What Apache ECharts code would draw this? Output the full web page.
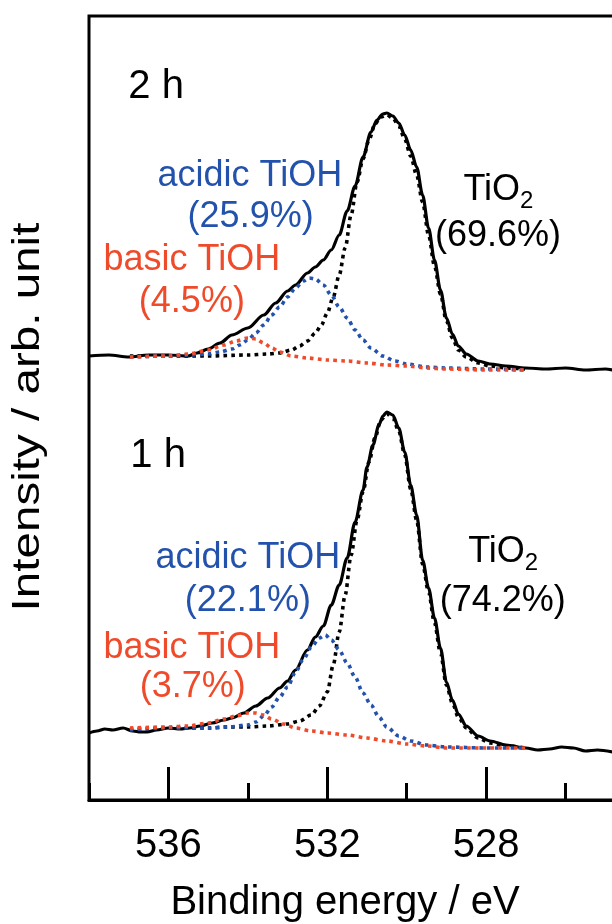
<!DOCTYPE html>
<html>
<head>
<meta charset="utf-8">
<title>O1s XPS</title>
<script src="https://cdn.jsdelivr.net/npm/echarts@6/dist/echarts.min.js"></script>
<style>
  html, body { margin: 0; padding: 0; background: #fff; }
  #chart { width: 612px; height: 924px; }
</style>
</head>
<body>
<div id="chart"></div>
<script>
// ---- 2 h spectrum (binding energy / eV, intensity / arb. unit) ----
const e2hTotal = [538.0, 537.5, 537.0, 536.5, 536.0, 535.5, 535.28, 535.0, 534.7, 534.4, 534.0, 533.6, 533.3, 533.0, 532.8, 532.5, 532.3, 532.1, 531.9, 531.7, 531.5, 531.3, 531.1, 530.9, 530.75, 530.6, 530.5, 530.35, 530.2, 530.05, 529.9, 529.75, 529.6, 529.45, 529.3, 529.15, 529.0, 528.85, 528.7, 528.5, 528.2, 527.9, 527.5, 527.0, 526.5, 526.0, 525.5, 525.0, 524.8];
const i2hTotal = [444, 445, 443, 445, 445, 444, 447, 451, 457, 465, 472, 485, 497, 509, 515, 527, 533, 540, 550, 565, 589, 614, 643, 668, 680, 686, 687, 684, 677, 665, 650, 633, 605, 572, 540, 510, 482, 466, 454, 446, 439, 436, 434, 432, 431, 432, 430, 431, 430];

const e2hTiO2 = [536.97, 536.0, 535.0, 534.0, 533.5, 533.2, 532.9, 532.7, 532.5, 532.3, 532.15, 532.0, 531.85, 531.7, 531.55, 531.4, 531.25, 531.1, 530.95, 530.8, 530.65, 530.5, 530.35, 530.2, 530.05, 529.9, 529.75, 529.6, 529.45, 529.3, 529.15, 529.0, 528.85, 528.7, 528.5, 528.2, 527.9, 527.5, 527.02];
const i2hTiO2 = [444, 444, 444, 445, 446, 447, 450, 454, 459, 467, 475, 487, 503, 525, 552, 585, 618, 641, 660, 676, 683, 685, 682, 674, 661, 644, 625, 598, 565, 534, 506, 479, 462, 450, 443, 437, 434, 432, 431];

const e2hAcidic = [536.97, 536.0, 535.5, 535.0, 534.7, 534.4, 534.2, 534.0, 533.8, 533.6, 533.4, 533.2, 533.0, 532.8, 532.6, 532.45, 532.3, 532.1, 531.9, 531.7, 531.5, 531.3, 531.1, 530.9, 530.6, 530.3, 530.0, 529.5, 529.0, 528.0, 527.02];
const i2hAcidic = [443, 444, 445, 446, 448, 451, 455, 460, 467, 475, 485, 493, 503, 512, 519, 522, 521, 515, 505, 493, 482, 470, 460, 452, 444, 439, 436, 433, 432, 431, 430];

const e2hBasic = [536.97, 536.0, 535.5, 535.0, 534.6, 534.3, 534.0, 533.8, 533.6, 533.4, 533.2, 532.9, 532.5, 532.0, 531.5, 531.0, 530.5, 530.0, 529.5, 529.0, 528.0, 527.02];
const i2hBasic = [443, 444, 446, 450, 455, 459, 462, 461, 457, 452, 448, 444, 442, 440, 439, 437, 435, 434, 432, 431, 430, 430];

// ---- 1 h spectrum ----
const e1hTotal = [538.0, 537.8, 537.6, 537.4, 537.14, 536.9, 536.7, 536.54, 536.3, 536.0, 535.7, 535.46, 535.2, 534.9, 534.6, 534.4, 534.1, 533.8, 533.5, 533.2, 533.0, 532.8, 532.5, 532.3, 532.1, 531.9, 531.7, 531.5, 531.3, 531.1, 531.0, 530.85, 530.7, 530.6, 530.5, 530.35, 530.2, 530.05, 529.9, 529.75, 529.6, 529.45, 529.3, 529.15, 529.0, 528.85, 528.7, 528.5, 528.2, 527.9, 527.5, 527.0, 526.7, 526.4, 526.1, 525.8, 525.5, 525.2, 524.8];
const i1hTotal = [67, 69, 71, 70, 72, 69, 68, 68, 70, 72, 71, 72, 74, 77, 80, 82, 87, 94, 102, 112, 119, 130, 150, 163, 174, 195, 215, 242, 278, 310, 333, 355, 375, 384, 388, 385, 372, 348, 315, 285, 240, 212, 182, 152, 118, 100, 86, 74, 64, 59, 55, 52, 50, 51, 53, 52, 49, 50, 48];

const e1hTiO2 = [536.97, 536.5, 536.0, 535.5, 535.0, 534.5, 534.0, 533.5, 533.0, 532.7, 532.4, 532.2, 532.0, 531.85, 531.7, 531.55, 531.4, 531.25, 531.1, 530.95, 530.8, 530.65, 530.5, 530.35, 530.2, 530.05, 529.9, 529.75, 529.6, 529.45, 529.3, 529.15, 529.0, 528.85, 528.7, 528.5, 528.2, 527.9, 527.5, 527.02];
const i1hTiO2 = [71, 71, 72, 72, 72, 73, 73, 74, 76, 79, 85, 94, 108, 135, 168, 205, 245, 280, 308, 338, 362, 380, 386, 382, 369, 345, 311, 280, 236, 208, 177, 147, 115, 97, 83, 72, 62, 57, 54, 52];

const e1hAcidic = [536.97, 536.0, 535.0, 534.5, 534.0, 533.8, 533.6, 533.4, 533.2, 533.0, 532.8, 532.6, 532.4, 532.2, 532.05, 531.9, 531.7, 531.5, 531.3, 531.1, 530.9, 530.7, 530.5, 530.2, 529.9, 529.5, 529.0, 528.0, 527.02];
const i1hAcidic = [70, 72, 72, 73, 75, 78, 84, 93, 103, 113, 128, 141, 153, 162, 165, 160, 150, 137, 123, 107, 95, 83, 73, 64, 59, 55, 53, 52, 52];

const e1hBasic = [536.97, 536.0, 535.5, 535.0, 534.6, 534.3, 534.0, 533.8, 533.6, 533.4, 533.1, 532.8, 532.4, 532.0, 531.5, 531.0, 530.5, 530.0, 529.5, 529.0, 528.0, 527.02];
const i1hBasic = [72, 73, 74, 77, 81, 84, 87, 87, 85, 81, 76, 72, 69, 67, 65, 62, 59, 56, 54, 52, 52, 52];

// axis
const xMin = 524, xMax = 538;
const yMin = 0, yMax = 784;

// annotations, anchored in data units (energy, intensity)
const notes = [
  { text: '2 h', e: 536.31, v: 713, color: 'black', size: 40 },
  { text: 'acidic TiOH', e: 533.95, v: 624, color: 'blue', size: 36 },
  { text: '(25.9%)', e: 533.93, v: 583, color: 'blue', size: 36 },
  { text: 'basic TiOH', e: 535.41, v: 540, color: 'red', size: 36 },
  { text: '(4.5%)', e: 535.41, v: 498, color: 'red', size: 36 },
  { text: 'TiO2', e: 527.70, v: 610, color: 'black', size: 36 },
  { text: '(69.6%)', e: 527.70, v: 564, color: 'black', size: 36 },
  { text: '1 h', e: 536.26, v: 344, color: 'black', size: 40 },
  { text: 'acidic TiOH', e: 534.0, v: 242, color: 'blue', size: 36 },
  { text: '(22.1%)', e: 534.0, v: 199, color: 'blue', size: 36 },
  { text: 'basic TiOH', e: 535.41, v: 152, color: 'red', size: 36 },
  { text: '(3.7%)', e: 535.39, v: 113, color: 'red', size: 36 },
  { text: 'TiO2', e: 527.58, v: 248, color: 'black', size: 36 },
  { text: '(74.2%)', e: 527.58, v: 199, color: 'black', size: 36 }
];

const FONT = '"Liberation Sans", Arial, Helvetica, sans-serif';
const COLORS = { black: '#000000', blue: '#2352ac', red: '#ef4b2a' };

function zip(e, v) { return e.map((x, i) => [x, v[i]]); }

function lineSeries(name, e, v, color, dotted) {
  return {
    name: name,
    type: 'line',
    data: zip(e, v),
    xAxisIndex: 0,
    yAxisIndex: 0,
    showSymbol: false,
    symbol: 'none',
    smooth: 0.3,
    smoothMonotone: 'x',
    silent: true,
    z: dotted ? 3 : 2,
    lineStyle: {
      color: color,
      width: dotted ? 3.6 : 3.2,
      type: dotted ? [3.6, 4.2] : 'solid',
      cap: 'butt'
    }
  };
}

const myChart = echarts.init(document.getElementById('chart'));

const tickStyle = { color: '#000', width: 3 };

let option = {
  backgroundColor: '#fff',
  animation: false,
  grid: {
    left: 89,
    top: 16,
    width: 556,
    height: 784,
    containLabel: false,
    outerBoundsMode: 'none',
    show: true,
    borderColor: '#000',
    borderWidth: 3
  },
  xAxis: [{
    type: 'value',
    min: xMin,
    max: xMax,
    interval: 4,
    inverse: true,
    position: 'bottom',
    axisLine: { show: true, lineStyle: tickStyle },
    axisTick: { show: true, inside: true, length: 33, lineStyle: tickStyle },
    axisLabel: {
      fontSize: 40,
      color: '#000',
      fontFamily: FONT,
      margin: 26,
      showMinLabel: false,
      showMaxLabel: false
    },
    splitLine: { show: false }
  }, {
    type: 'value',
    min: xMin,
    max: xMax,
    interval: 2,
    inverse: true,
    position: 'bottom',
    axisLine: { show: false },
    axisTick: { show: true, inside: true, length: 17, lineStyle: tickStyle },
    axisLabel: { show: false },
    splitLine: { show: false }
  }],
  yAxis: {
    type: 'value',
    min: yMin,
    max: yMax,
    show: false
  },
  series: [
    lineSeries('2 h', e2hTotal, i2hTotal, COLORS.black, false),
    lineSeries('2 h TiO2', e2hTiO2, i2hTiO2, COLORS.black, true),
    lineSeries('2 h acidic TiOH', e2hAcidic, i2hAcidic, COLORS.blue, true),
    lineSeries('2 h basic TiOH', e2hBasic, i2hBasic, COLORS.red, true),
    lineSeries('1 h', e1hTotal, i1hTotal, COLORS.black, false),
    lineSeries('1 h TiO2', e1hTiO2, i1hTiO2, COLORS.black, true),
    lineSeries('1 h acidic TiOH', e1hAcidic, i1hAcidic, COLORS.blue, true),
    lineSeries('1 h basic TiOH', e1hBasic, i1hBasic, COLORS.red, true)
  ]
};

myChart.setOption(option);

// text annotations placed through the axes
const graphics = [];
notes.forEach(function (n) {
  const p = myChart.convertToPixel({ xAxisIndex: 0, yAxisIndex: 0 }, [n.e, n.v]);
  if (n.text === 'TiO2') {
    // TiO with subscript 2
    graphics.push({
      type: 'text', x: p[0] + 22, y: p[1],
      style: { text: 'TiO', fontSize: n.size, fontFamily: FONT, fill: COLORS[n.color], align: 'right', verticalAlign: 'middle' }
    });
    graphics.push({
      type: 'text', x: p[0] + 22, y: p[1] + 11,
      style: { text: '2', fontSize: 24, fontFamily: FONT, fill: COLORS[n.color], align: 'left', verticalAlign: 'middle' }
    });
  } else {
    graphics.push({
      type: 'text', x: p[0], y: p[1],
      style: { text: n.text, fontSize: n.size, fontFamily: FONT, fill: COLORS[n.color], align: 'center', verticalAlign: 'middle' }
    });
  }
});

// axis titles
graphics.push({
  type: 'text', x: 345, y: 903,
  style: { text: 'Binding energy / eV', fontSize: 40, fontFamily: FONT, fill: '#000', align: 'center', verticalAlign: 'middle' }
});
graphics.push({
  type: 'text', x: 28, y: 417, rotation: Math.PI / 2, scaleX: 1.22,
  style: { text: 'Intensity / arb. unit', fontSize: 39, fontFamily: FONT, fill: '#000', align: 'center', verticalAlign: 'middle' }
});

myChart.setOption({ graphic: graphics });

window.addEventListener('resize', () => { myChart.resize(); });
</script>
</body>
</html>
